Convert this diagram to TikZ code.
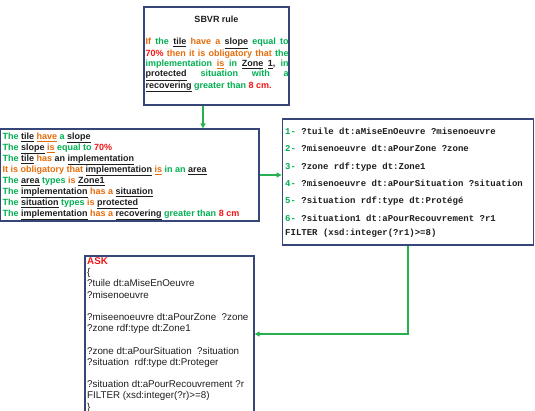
\documentclass[tikz,border=0pt]{standalone}
\usepackage{fontspec}
\setmainfont{Liberation Sans}
\setmonofont{Liberation Mono}
\usetikzlibrary{arrows.meta}
\definecolor{tg}{RGB}{0,176,80}
\definecolor{to}{RGB}{228,108,10}
\definecolor{tre}{RGB}{240,20,20}
\definecolor{tk}{RGB}{30,30,30}
\definecolor{frame}{RGB}{55,70,120}
\definecolor{connc}{RGB}{40,175,80}
\newcommand{\tgr}[1]{\textcolor{tg}{#1}}
\newcommand{\tor}[1]{\textcolor{to}{#1}}
\newcommand{\trd}[1]{\textcolor{tre}{#1}}
\newcommand{\tun}[1]{\textcolor{tk}{\underline{#1}}}
\newcommand{\tou}[1]{\textcolor{to}{\underline{#1}}}
\tikzset{
  frm/.style={draw=frame, line width=1.3pt, inner sep=0pt},
  conn/.style={draw=connc, line width=1.6pt, -{Triangle[length=5pt,width=5pt]}},
  txt/.style={inner sep=0pt, anchor=north west, text=tk}
}
\begin{document}
\begin{tikzpicture}[x=1pt,y=-1pt]
\useasboundingbox (0,0) rectangle (535,411);
% frames
\node[frm, minimum width=145pt, minimum height=98pt] (b1) at (216.5,56) {};
\node[frm, minimum width=258.3pt, minimum height=92pt] (b2) at (129.85,175) {};
\node[frm, minimum width=251.5pt, minimum height=126pt] (b3) at (408,182) {};
\node[frm, minimum width=169pt, minimum height=156pt] (b4) at (169.5,334) {};
% box 1
\node[inner sep=0pt, font=\bfseries\fontsize{9}{10.3}\selectfont, text=tk] (t1a) at (216.5,19) {SBVR rule};
\node[txt, text width=143pt, align=justify, font=\bfseries\fontsize{9}{10.3}\selectfont] (t1b) at (145.5,38) {%
\tor{If} \tgr{the} \tun{tile} \tor{have a} \tun{slope} \tgr{equal to}\linebreak
\trd{70\%} \tor{then it is obligatory that} \tgr{the}\linebreak
\tgr{implementation} \tou{is} \tgr{in} \tun{Zone} \tun{1}\textcolor{tk}{,} \tgr{in}\linebreak
\tun{protected} \tgr{situation with a}\linebreak
\tun{recovering} \tgr{greater than} \trd{8 cm.}};
% box 2
\node[txt, align=left, font=\bfseries\fontsize{9}{11}\selectfont] (t2) at (2.5,132.5) {%
\tgr{The} \tun{tile} \tou{have} \tgr{a} \tun{slope}\\
\tgr{The} \tun{slope} \tou{is} \tgr{equal to} \trd{70\%}\\
\tgr{The} \tun{tile} \tor{has} an \tun{implementation}\\
\tor{It is obligatory that} \tun{implementation} \tou{is} \tgr{in an} \tun{area}\\
\tgr{The} \tun{area} \tgr{types} \tor{is} \tun{Zone1}\\
\tgr{The} \tun{implementation} \tor{has a} \tun{situation}\\
\tgr{The} \tun{situation} \tgr{types} \tor{is} \tun{protected}\\
\tgr{The} \tun{implementation} \tor{has a} \tun{recovering} \tgr{greater than} \trd{8 cm}};
% box 3
\node[txt, align=left, font=\ttfamily\bfseries\fontsize{9}{11}\selectfont] (t3) at (285,127.5) {%
\tgr{1-} ?tuile dt:aMiseEnOeuvre ?misenoeuvre\\[6.4pt]
\tgr{2-} ?misenoeuvre dt:aPourZone ?zone\\[6.4pt]
\tgr{3-} ?zone rdf:type dt:Zone1\\[6.4pt]
\tgr{4-} ?misenoeuvre dt:aPourSituation ?situation\\[6.4pt]
\tgr{5-} ?situation rdf:type dt:Protégé\\[6.4pt]
\tgr{6-} ?situation1 dt:aPourRecouvrement ?r1\\[3pt]
FILTER (xsd:integer(?r1)>=8)};
% box 4
\node[txt, align=left, font=\fontsize{9.8}{11.2}\selectfont] (t4) at (87,257.5) {%
\textbf{\trd{ASK}}\\
\{\\
?tuile dt:aMiseEnOeuvre\\
?misenoeuvre\\[11.2pt]
?miseenoeuvre dt:aPourZone\ \ ?zone\\
?zone rdf:type dt:Zone1\\[11.2pt]
?zone dt:aPourSituation\ \ ?situation\\
?situation\ \ rdf:type dt:Proteger\\[11.2pt]
?situation dt:aPourRecouvrement ?r\\
FILTER (xsd:integer(?r)>=8)\\
\}};
% connectors
\draw[conn] ([xshift=-13.5pt]b1.south) -- ([xshift=-13.5pt]b1.south |- b2.north);
\draw[conn] (b2.east) -- (b2.east -| b3.west);
\draw[conn] (b3.south) |- (b4.east);
\end{tikzpicture}
\end{document}
